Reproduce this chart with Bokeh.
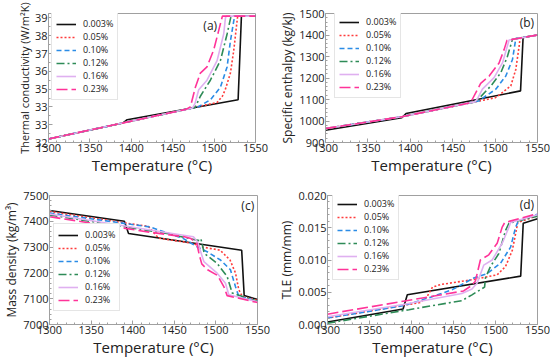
from bokeh.plotting import figure
from bokeh.layouts import column, row
from bokeh.models import Range1d, FixedTicker, Label, NumeralTickFormatter
from bokeh.embed import file_html
from bokeh.resources import INLINE

series_names = ["0.003%", "0.05%", "0.10%", "0.12%", "0.16%", "0.23%"]
temp_ticks = [1300, 1350, 1400, 1450, 1500, 1550]

# (a) Thermal conductivity
cond_temp = [
    [1300, 1390, 1395, 1529, 1533, 1550],
    [1300, 1420, 1503.6, 1510, 1513.7, 1519.7, 1523.8, 1527.8, 1528.5, 1550],
    [1300, 1420, 1481, 1495.5, 1507.6, 1515.7, 1519.7, 1523.8, 1525, 1550],
    [1300, 1420, 1477, 1483.4, 1495.5, 1507.6, 1515.7, 1519.7, 1520.5, 1550],
    [1300, 1420, 1474, 1477, 1481.4, 1483, 1491.4, 1503.6, 1511.6, 1513.7, 1514.5, 1550],
    [1300, 1420, 1466, 1471.3, 1477.4, 1483.4, 1491.4, 1499.5, 1505.6, 1510, 1550],
]
cond_vals = [
    [32.2, 33.1, 33.28, 34.4, 39.1, 39.1],
    [32.2, 33.4, 34.25, 34.6, 35.0, 35.9, 37.2, 38.85, 39.1, 39.1],
    [32.2, 33.4, 34.01, 34.4, 35.1, 36.25, 37.7, 38.85, 39.1, 39.1],
    [32.2, 33.4, 33.97, 34.6, 35.5, 36.6, 38.1, 38.95, 39.1, 39.1],
    [32.2, 33.4, 33.94, 34.2, 34.96, 35.05, 35.5, 36.6, 38.1, 39.0, 39.1, 39.1],
    [32.2, 33.4, 33.86, 34.0, 35.1, 35.9, 36.25, 37.2, 38.3, 39.1, 39.1],
]
cond_ticks = [32, 33, 34, 35, 36, 37, 38, 39]
cond_tick_text = {34: "33"}

# (b) Specific enthalpy
enth_temp = [
    [1300, 1390, 1395, 1530, 1533, 1550],
    [1300, 1390, 1500, 1504.7, 1518.5, 1524.4, 1528.3, 1529.5, 1550],
    [1300, 1390, 1482, 1485, 1500.8, 1512.6, 1520.5, 1524.4, 1550],
    [1300, 1390, 1478, 1481, 1495, 1506.7, 1514.6, 1520.5, 1550],
    [1300, 1390, 1476, 1479, 1485, 1498.8, 1508.7, 1516.5, 1550],
    [1300, 1390, 1471, 1473, 1483, 1493, 1504.7, 1510.6, 1514, 1550],
]
enth_vals = [
    [957, 1015, 1035, 1140, 1388, 1400],
    [965, 1020, 1108, 1120, 1163, 1240, 1347, 1386, 1400],
    [965, 1020, 1094, 1105, 1148, 1209, 1286, 1383, 1400],
    [965, 1020, 1090, 1105, 1163, 1224, 1301, 1380, 1400],
    [965, 1020, 1089, 1102, 1148, 1202, 1270, 1377, 1400],
    [965, 1020, 1085, 1100, 1175, 1209, 1270, 1332, 1375, 1400],
]
enth_ticks = [900, 1000, 1100, 1200, 1300, 1400, 1500]

# (c) Mass density
dens_temp = [
    [1300, 1390, 1395, 1531, 1534, 1550],
    [1300, 1419, 1431, 1473, 1481, 1505, 1517, 1523.6, 1527.5, 1531.6, 1550],
    [1300, 1421, 1461, 1477.5, 1489.5, 1505.5, 1517.5, 1523.5, 1527.5, 1550],
    [1300, 1441, 1480, 1482, 1486, 1501.5, 1513.5, 1519.6, 1550],
    [1300, 1461, 1473, 1478, 1485.5, 1501.5, 1511.5, 1515.5, 1550],
    [1300, 1420, 1462, 1470, 1477, 1480, 1483, 1490, 1502, 1509.5, 1513.5, 1550],
]
dens_vals = [
    [7442, 7400, 7353, 7288, 7112, 7097],
    [7438, 7380, 7335, 7314, 7302, 7288, 7250, 7199, 7135, 7109, 7094],
    [7432, 7378, 7333, 7301, 7282, 7250, 7212, 7147, 7109, 7092],
    [7425, 7353, 7325, 7332, 7276, 7237, 7186, 7122, 7090],
    [7428, 7346, 7340, 7320, 7244, 7199, 7160, 7115, 7088],
    [7418, 7358, 7340, 7333, 7315, 7270, 7235, 7212, 7190, 7147, 7112, 7085],
]
dens_ticks = [7000, 7100, 7200, 7300, 7400, 7500]

# (d) TLE
tle_temp = [
    [1300, 1390, 1395, 1530, 1533, 1550],
    [1300, 1410, 1418, 1425, 1435, 1470, 1502, 1512, 1520, 1524, 1526.5, 1550],
    [1300, 1390, 1422, 1448.5, 1474, 1490, 1506, 1518, 1524, 1527, 1550],
    [1300, 1397, 1460, 1472, 1487, 1488, 1494, 1504, 1512, 1516, 1550],
    [1300, 1390, 1460, 1472, 1478, 1486, 1496, 1508, 1516, 1518, 1550],
    [1300, 1390, 1462, 1470, 1476, 1482, 1492, 1502, 1508, 1511, 1550],
]
tle_vals = [
    [0.0004, 0.0024, 0.0046, 0.0075, 0.0157, 0.0164],
    [0.0010, 0.0034, 0.0042, 0.0058, 0.0062, 0.0069, 0.0077, 0.0090, 0.0115, 0.0141, 0.0158, 0.0169],
    [0.0010, 0.0029, 0.0042, 0.0054, 0.0072, 0.0079, 0.0095, 0.0120, 0.0151, 0.0160, 0.0171],
    [0.0002, 0.0023, 0.0037, 0.0046, 0.0058, 0.0072, 0.0090, 0.0110, 0.0146, 0.0157, 0.0168],
    [0.0012, 0.0031, 0.0048, 0.0055, 0.0064, 0.0092, 0.0100, 0.0126, 0.0151, 0.0158, 0.0170],
    [0.0016, 0.0036, 0.0052, 0.0059, 0.0067, 0.0100, 0.0108, 0.0126, 0.0151, 0.0158, 0.0172],
]
tle_ticks = [0.0, 0.005, 0.010, 0.015, 0.020]

# styles
colors = ["#111111", "#ff3b3b", "#2b8ce6", "#2e8b57", "#dfb0f0", "#ff3399"]
dashes = ["solid", "2 2", "5 3", "8 3 2 3", "solid", "11 4"]
FONT = "Open Sans"
GRAY = "#a0a0a0"


def panel(temps, vals, ylabel, yr, yticks, yminor, tag, tag_x, tag_y, tag_align,
          leg_loc, w, h, bl, br, bt, ylabel_size="12px"):
    p = figure(width=w, height=h, x_range=Range1d(1300, 1550), y_range=Range1d(*yr),
               output_backend="svg", toolbar_location=None,
               min_border_left=bl, min_border_right=br, min_border_top=bt, min_border_bottom=0)
    for i in range(6):
        p.line(temps[i], vals[i], line_color=colors[i], line_dash=dashes[i],
               line_width=1.6, legend_label=series_names[i])
    p.xgrid.visible = False
    p.ygrid.visible = False
    p.outline_line_color = GRAY
    p.xaxis.ticker = FixedTicker(ticks=temp_ticks, minor_ticks=list(range(1300, 1551, 10)))
    p.yaxis.ticker = FixedTicker(ticks=yticks, minor_ticks=yminor)
    for ax in (p.xaxis[0], p.yaxis[0]):
        ax.axis_line_color = GRAY
        ax.major_tick_in = 4
        ax.major_tick_out = 0
        ax.minor_tick_in = 2
        ax.minor_tick_out = 0
        ax.major_tick_line_color = GRAY
        ax.minor_tick_line_color = GRAY
        ax.major_label_text_font = FONT
        ax.major_label_text_font_size = "11px"
        ax.major_label_text_color = "#222222"
        ax.major_label_standoff = 1
        ax.axis_label_text_font = FONT
        ax.axis_label_text_font_style = "normal"
        ax.axis_label_text_color = "#222222"
        ax.axis_label_standoff = 0
    p.xaxis.axis_label = "Temperature (°C)"
    p.xaxis.axis_label_text_font_size = "15px"
    p.yaxis.axis_label = ylabel
    p.yaxis.axis_label_text_font_size = ylabel_size
    p.add_layout(Label(x=tag_x, y=tag_y, text=tag, text_font=FONT, text_font_size="12px",
                       text_color="#222222", text_align=tag_align, text_baseline="middle"))
    lg = p.legend[0]
    lg.location = leg_loc
    lg.border_line_color = "#cccccc"
    lg.border_line_width = 1
    lg.background_fill_color = "white"
    lg.background_fill_alpha = 1
    lg.label_text_font = FONT
    lg.label_text_font_size = "9px"
    lg.label_text_color = "#222222"
    lg.glyph_width = 20
    lg.glyph_height = 10
    lg.label_height = 10
    lg.spacing = 0
    lg.padding = 4
    lg.margin = 0
    lg.label_standoff = 7
    return p


pa = panel(cond_temp, cond_vals, "Thermal conductivity (W/m²K)", (32, 39.25), cond_ticks,
           [x / 2 for x in range(64, 79)], "(a)", 1487, 38.6, "left", (3, 42),
           275, 177, 48, 20, 13, ylabel_size="11px")
pa.yaxis.major_label_overrides = cond_tick_text

pb = panel(enth_temp, enth_vals, "Specific enthalpy (kg/kJ)", (900, 1500), enth_ticks,
           list(range(900, 1501, 20)), "(b)", 1546, 1458, "right", (9, 44),
           275, 177, 50, 13, 13)

pc = panel(dens_temp, dens_vals, "Mass density (kg/m³)", (7000, 7500), dens_ticks,
           list(range(7000, 7501, 20)), "(c)", 1546, 7462, "right", (4, 13),
           275, 182, 49, 18, 18)

pd_ = panel(tle_temp, tle_vals, "TLE (mm/mm)", (0, 0.02), tle_ticks,
            [i * 0.001 for i in range(0, 21)], "(d)", 1546, 0.0186, "right", (5, 44),
            275, 182, 52, 13, 18)
pd_.yaxis.formatter = NumeralTickFormatter(format="0.000")

layout = column(row(pa, pb), row(pc, pd_))
open("out.html", "w").write(file_html(layout, INLINE))
